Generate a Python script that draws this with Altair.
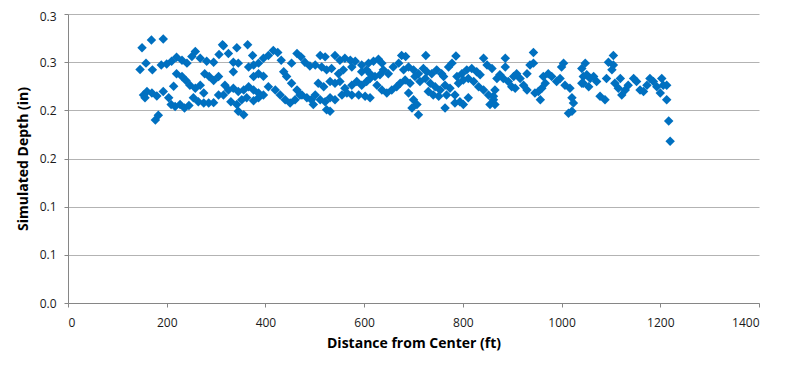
import altair as alt
import pandas as pd

# Distance from center (ft) and simulated depth (in)
distance_ft = [
    150, 169, 193, 158, 146, 171, 189, 200, 210, 220, 231, 241, 251, 258, 268, 281, 295, 306, 313,
    220, 231, 239, 247, 258, 268, 277, 286, 295, 305, 214, 275,
    153, 160, 156, 170, 180, 193, 204, 209, 217, 227, 236, 245, 254, 264, 275, 285, 295, 305, 177, 183,
    315, 325, 342, 364, 374, 335, 345, 366, 376, 386, 396, 406, 416, 425, 432, 453, 464, 472, 480, 490,
    335, 376, 386, 396, 437, 443, 453, 464, 474, 484, 493,
    318, 325, 335, 345, 356, 366, 376, 386, 396, 406, 420, 430, 440, 450, 460, 470, 330, 342, 352, 362,
    345, 356, 376, 386, 315,
    511, 521, 541, 551, 561, 572, 582, 595, 609, 619, 629, 636, 639, 632, 676,
    501, 514, 524, 534, 548, 558, 575, 595, 605, 612, 622, 649, 659, 670,
    507, 518, 531, 541, 551, 561, 575, 585, 595, 605, 612, 626, 636, 646, 656, 666, 673,
    501, 511, 521, 531, 541, 555, 565, 575, 589, 602, 612, 524, 531, 497,
    684, 725, 786, 842, 778, 771, 680, 690, 700, 710, 720, 727, 737, 747, 757, 761, 788, 798, 808, 818,
    828, 835, 849, 859,
    683, 693, 703, 713, 724, 734, 744, 754, 764, 774, 791, 801, 811, 822, 832, 842, 852,
    690, 700, 707, 697, 710, 730, 740, 751, 767, 764, 784, 794, 801, 811, 784, 855, 862,
    943, 886, 886, 1004, 1000, 936, 943, 930, 1041,
    869, 875, 882, 892, 903, 909, 916, 923, 930, 899, 906,
    963, 973, 980, 990, 997, 1007, 1017, 960, 953, 946, 957,
    865, 862, 865, 1021, 1024, 1021, 1014, 1044, 1041, 967,
    1105, 1095, 1105, 1102, 1048, 1051, 1058, 1065, 1071, 1055, 1044, 1078, 1088, 1091, 1108, 1115,
    1122, 1129, 1135, 1146, 1152, 1159, 1166, 1173, 1179, 1186, 1193, 1200, 1206, 1213, 1203, 1213,
    1217, 1220, 1119,
]

depth_in = [
    0.265, 0.273, 0.274, 0.249, 0.2425, 0.242, 0.247, 0.248, 0.251, 0.255, 0.252, 0.249, 0.256, 0.261, 0.254, 0.251, 0.250, 0.258, 0.268,
    0.238, 0.235, 0.231, 0.226, 0.223, 0.226, 0.238, 0.235, 0.231, 0.235, 0.225, 0.218,
    0.216, 0.2195, 0.213, 0.218, 0.215, 0.2195, 0.213, 0.206, 0.204, 0.206, 0.2025, 0.205, 0.213, 0.209, 0.2075, 0.2075, 0.208, 0.216, 0.190, 0.195,
    0.267, 0.259, 0.265, 0.268, 0.257, 0.250, 0.249, 0.245, 0.247, 0.249, 0.254, 0.257, 0.262, 0.260, 0.252, 0.249, 0.259, 0.2555, 0.250, 0.246,
    0.240, 0.235, 0.238, 0.2355, 0.240, 0.235, 0.228, 0.221, 0.216, 0.213, 0.211,
    0.226, 0.221, 0.223, 0.2195, 0.221, 0.2245, 0.221, 0.218, 0.216, 0.2245, 0.221, 0.216, 0.211, 0.2075, 0.211, 0.216, 0.209, 0.206, 0.211, 0.213,
    0.199, 0.1955, 0.210, 0.213, 0.216,
    0.257, 0.2555, 0.257, 0.252, 0.254, 0.252, 0.251, 0.247, 0.249, 0.251, 0.253, 0.249, 0.242, 0.237, 0.257,
    0.247, 0.245, 0.242, 0.2435, 0.238, 0.242, 0.245, 0.240, 0.242, 0.238, 0.235, 0.238, 0.245, 0.249,
    0.228, 0.2245, 0.230, 0.228, 0.230, 0.223, 0.226, 0.230, 0.226, 0.230, 0.233, 0.226, 0.221, 0.218, 0.221, 0.2245, 0.228,
    0.216, 0.211, 0.209, 0.213, 0.211, 0.216, 0.218, 0.216, 0.216, 0.2145, 0.213, 0.2005, 0.199, 0.206,
    0.256, 0.257, 0.2565, 0.254, 0.249, 0.245, 0.242, 0.245, 0.242, 0.238, 0.2435, 0.240, 0.238, 0.242, 0.238, 0.235, 0.235, 0.238, 0.242, 0.2435,
    0.240, 0.237, 0.247, 0.2435,
    0.2315, 0.228, 0.235, 0.230, 0.233, 0.228, 0.2245, 0.221, 0.226, 0.223, 0.228, 0.2315, 0.233, 0.230, 0.2245, 0.221, 0.216,
    0.218, 0.211, 0.206, 0.2025, 0.1955, 0.2195, 0.216, 0.2145, 0.216, 0.2025, 0.2075, 0.209, 0.206, 0.213, 0.216, 0.206, 0.211,
    0.260, 0.254, 0.245, 0.249, 0.245, 0.247, 0.249, 0.238, 0.2435,
    0.233, 0.237, 0.233, 0.230, 0.235, 0.238, 0.233, 0.226, 0.221, 0.2245, 0.223,
    0.235, 0.238, 0.235, 0.230, 0.233, 0.226, 0.223, 0.223, 0.2195, 0.218, 0.211,
    0.221, 0.2145, 0.206, 0.213, 0.2075, 0.199, 0.197, 0.235, 0.228, 0.228,
    0.257, 0.250, 0.247, 0.242, 0.249, 0.237, 0.233, 0.235, 0.230, 0.2245, 0.228, 0.2145, 0.211, 0.233, 0.228, 0.223,
    0.216, 0.221, 0.226, 0.233, 0.230, 0.221, 0.2195, 0.226, 0.233, 0.230, 0.2245, 0.218, 0.226, 0.226, 0.233, 0.211,
    0.189, 0.168, 0.233,
]

x_ticks = [0, 200, 400, 600, 800, 1000, 1200, 1400]
y_ticks = [0, 0.05, 0.1, 0.15, 0.2, 0.25, 0.3]

df = pd.DataFrame({"distance": distance_ft, "depth": depth_in})

FONT = "Open Sans"

chart = (
    alt.Chart(df)
    .mark_point(shape="diamond", filled=True, size=90, color="#0070C0", opacity=1, strokeWidth=0)
    .encode(
        x=alt.X(
            "distance:Q",
            scale=alt.Scale(domain=[0, 1400], nice=False, zero=True),
            axis=alt.Axis(
                values=x_ticks,
                format="d",
                title="Distance from Center (ft)",
                grid=False,
                domainColor="#868686",
                tickColor="#868686",
                tickSize=4,
                labelPadding=10,
                titlePadding=8,
                labelFont=FONT,
                labelFontSize=12,
                labelColor="#1a1a1a",
                titleFont=FONT,
                titleFontSize=14,
                titleFontWeight="bold",
                titleColor="#000000",
            ),
        ),
        y=alt.Y(
            "depth:Q",
            scale=alt.Scale(domain=[0, 0.3], nice=False),
            axis=alt.Axis(
                values=y_ticks,
                labelExpr="format(round(datum.value * 10 + 0.000001) / 10, '.1f')",
                labelOffset={"condition": {"test": "datum.value >= 0.29", "value": 2}, "value": 0},
                title="Simulated Depth (in)",
                grid=True,
                gridColor="#B3B3B3",
                domainColor="#868686",
                tickColor="#868686",
                tickSize=4,
                labelPadding=8,
                titlePadding=9,
                labelFont=FONT,
                labelFontSize=12,
                labelColor="#1a1a1a",
                titleFont=FONT,
                titleFontSize=14,
                titleFontWeight="bold",
                titleColor="#000000",
            ),
        ),
    )
    .properties(
        width=691,
        height=289,
        autosize=alt.AutoSizeParams(type="none"),
        padding={"left": 60, "top": 6, "right": 26, "bottom": 56},
    )
    .configure_view(stroke=None)
)

chart.save("out.html", embed_options={"renderer": "svg", "actions": False})
